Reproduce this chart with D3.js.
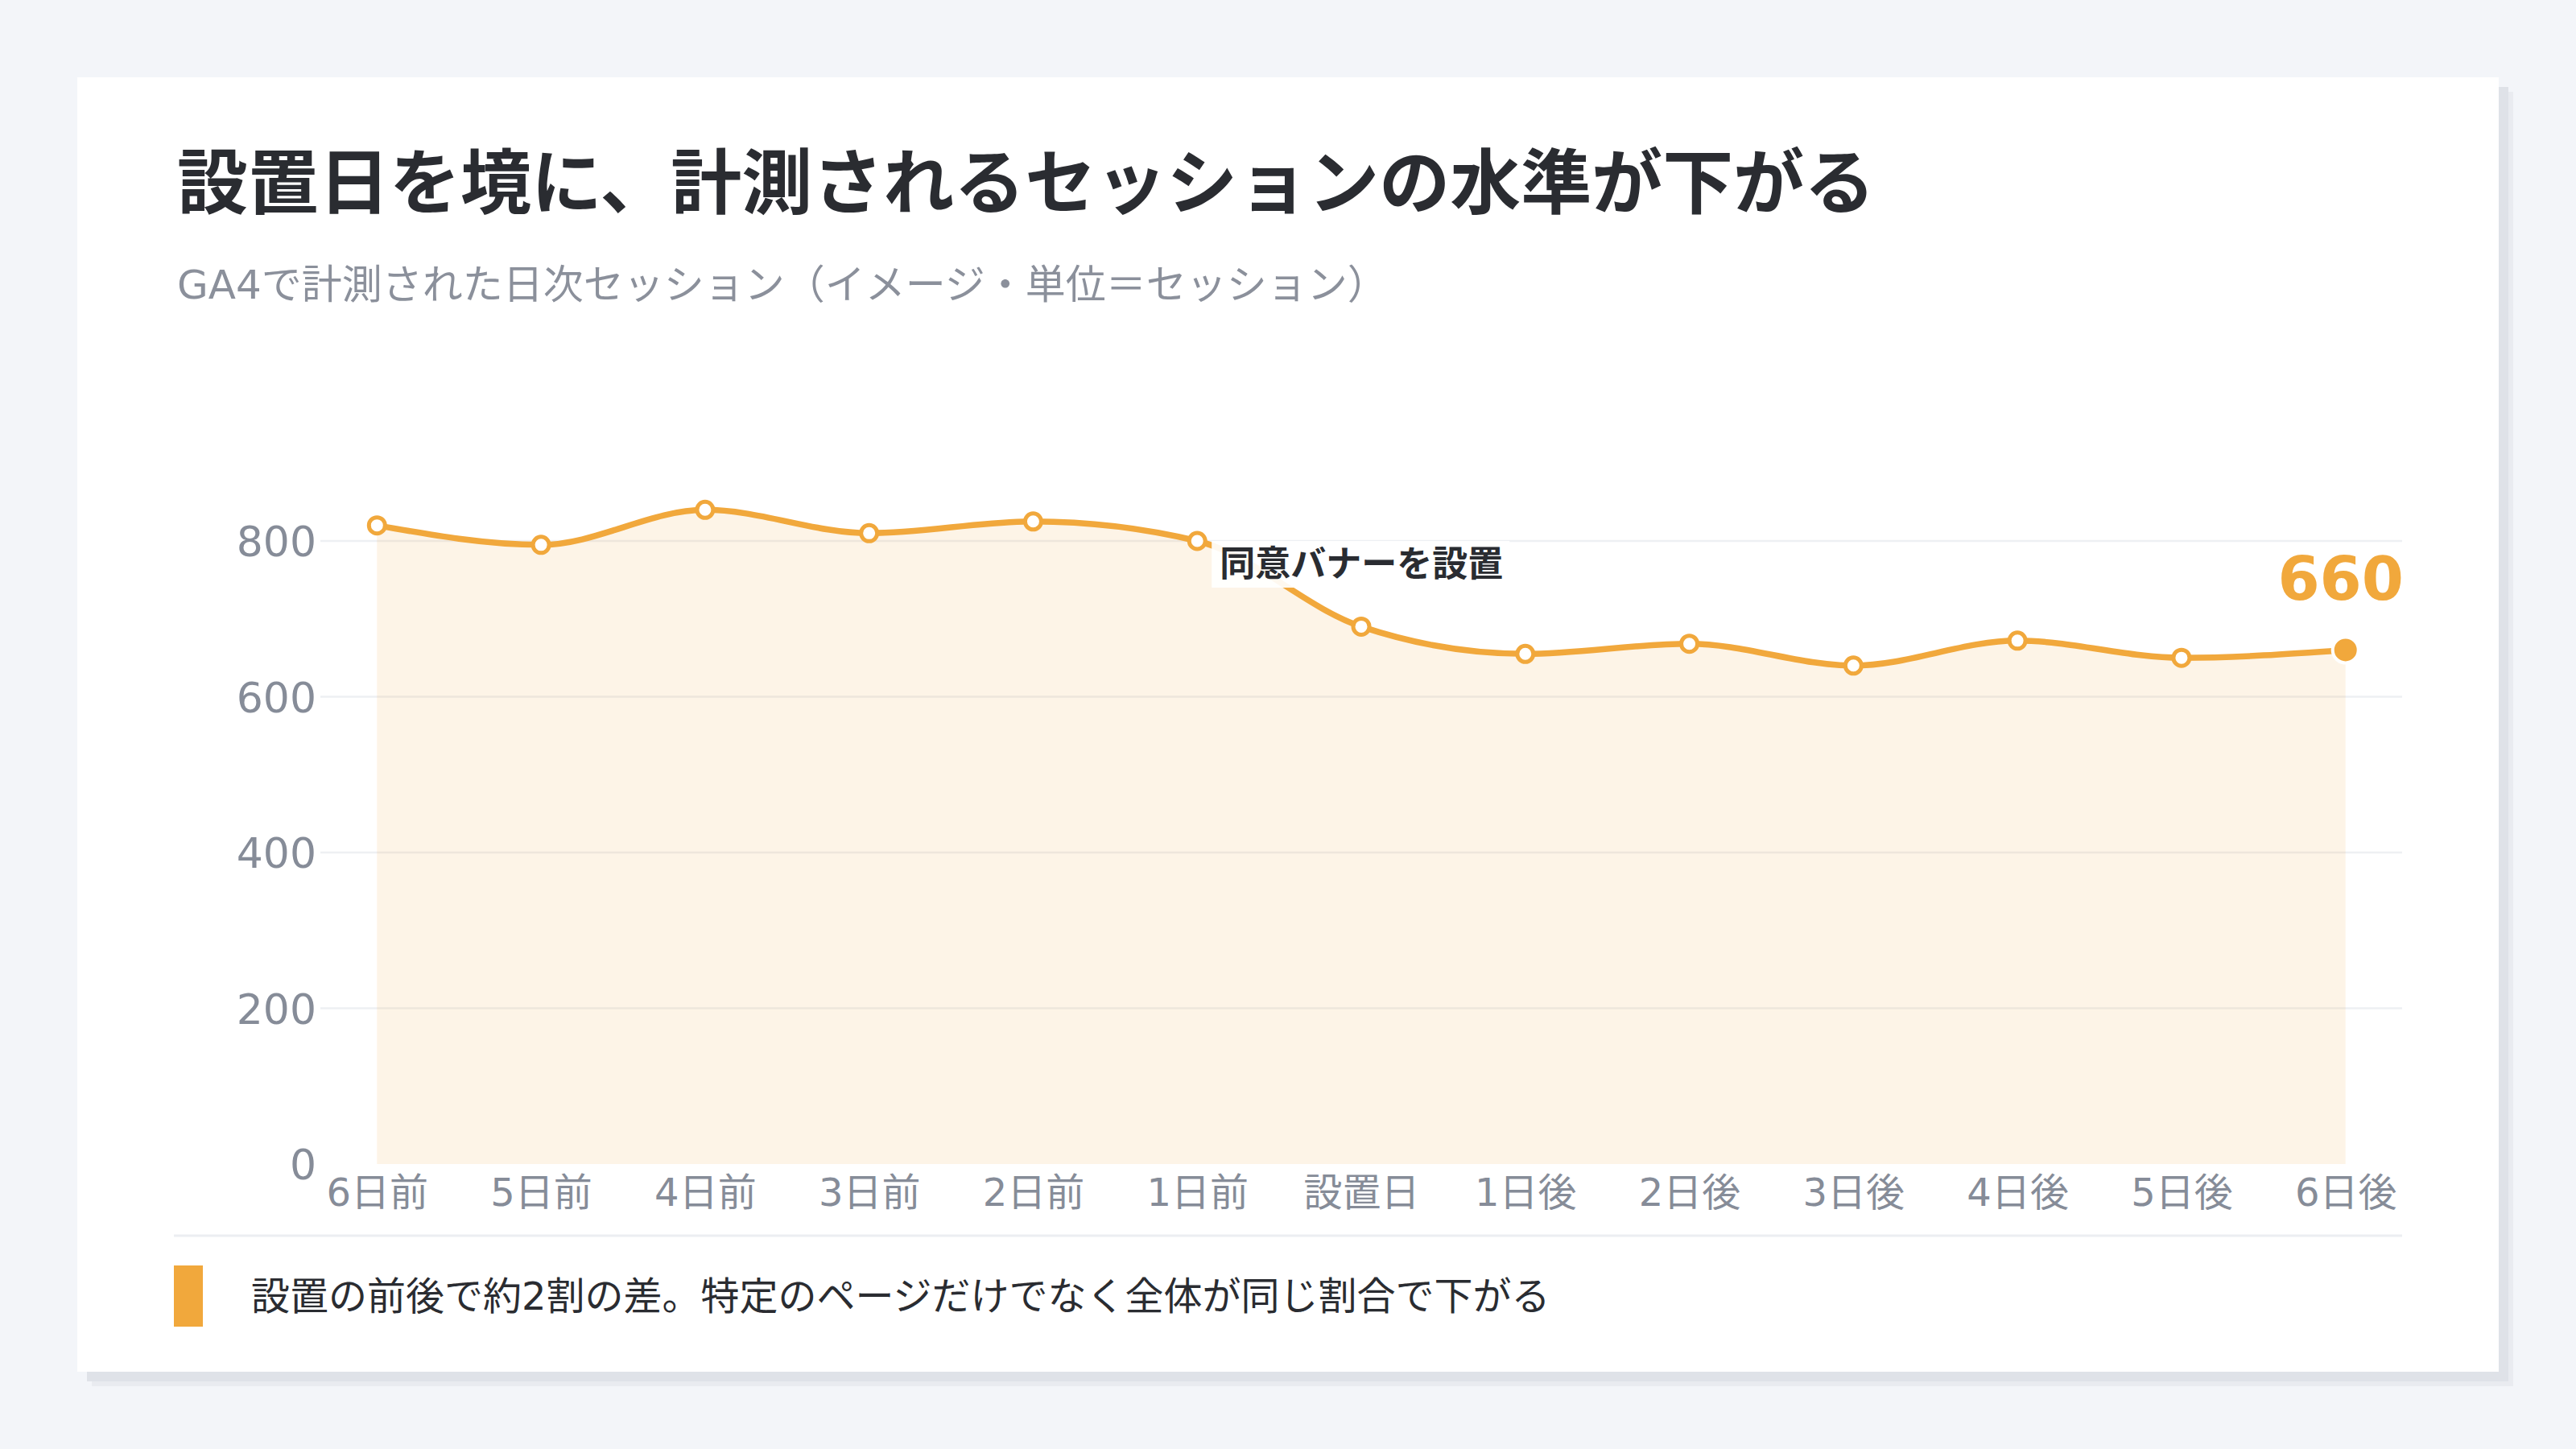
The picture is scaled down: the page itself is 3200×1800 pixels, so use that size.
<!DOCTYPE html>
<html>
<head>
<meta charset="utf-8">
<script src="https://cdn.jsdelivr.net/npm/d3@7"></script>
<style>
  html, body { margin: 0; padding: 0; background: #f3f5f9; }
  body { width: 3200px; height: 1800px; overflow: hidden; }
  svg { display: block; font-family: "DejaVu Sans", "Noto Sans CJK JP", sans-serif; }
</style>
</head>
<body>
<svg id="chart" width="3200" height="1800"></svg>
<script>
const categories = ["6日前","5日前","4日前","3日前","2日前","1日前","設置日","1日後","2日後","3日後","4日後","5日後","6日後"];
const sessions = [820, 795, 840, 810, 825, 800, 690, 655, 668, 640, 672, 650, 660];
const yTicks = [0, 200, 400, 600, 800];
const titleText = "設置日を境に、計測されるセッションの水準が下がる";
const subtitleText = "GA4で計測された日次セッション（イメージ・単位＝セッション）";
const annotationText = "同意バナーを設置";
const annotationAnchor = "1日前";
const footnoteText = "設置の前後で約2割の差。特定のページだけでなく全体が同じ割合で下がる";

const orange = "#f1a83c";
const fontMix = "\"DejaVu Sans\", \"Noto Sans CJK JP\", sans-serif";
const svg = d3.select("#chart");

// shadow + card
svg.append("rect").attr("x", 114).attr("y", 114).attr("width", 3008).attr("height", 1608).attr("fill", "#e9ebf0");
svg.append("rect").attr("x", 108).attr("y", 108).attr("width", 3008).attr("height", 1608).attr("fill", "#dfe2e8");
svg.append("rect").attr("x", 96).attr("y", 96).attr("width", 3008).attr("height", 1608).attr("fill", "#ffffff");

// titles
svg.append("text").attr("x", 220).attr("y", 258)
  .attr("font-family", "\"Noto Sans CJK JP\", sans-serif")
  .attr("font-size", 88).attr("font-weight", 700).attr("fill", "#2a2c31")
  .text(titleText);
svg.append("text").attr("x", 220).attr("y", 371)
  .attr("font-family", fontMix)
  .attr("font-size", 50).attr("fill", "#8b909b")
  .text(subtitleText);

// scales
const plotLeft = 398, plotRight = 2984;
const x = d3.scalePoint().domain(categories).range([plotLeft, plotRight]).padding(0.345);
const y = d3.scaleLinear().domain([0, 800]).range([1446, 672]);

// gridlines
svg.append("g").selectAll("line")
  .data(yTicks.filter(d => d !== 0))
  .join("line")
  .attr("x1", plotLeft).attr("x2", plotRight)
  .attr("y1", d => y(d)).attr("y2", d => y(d))
  .attr("stroke", "#eef0f3").attr("stroke-width", 2.5);

// y axis labels
const yAxis = svg.append("g").attr("transform", `translate(${plotLeft},0)`)
  .call(d3.axisLeft(y).tickValues(yTicks).tickSize(0).tickPadding(5).tickFormat(d3.format("d")));
yAxis.select(".domain").remove();
yAxis.selectAll("text")
  .attr("font-size", 52).attr("fill", "#868c98")
  .attr("font-family", fontMix)
  .attr("dy", "0.36em");

// x axis labels
const xAxis = svg.append("g").attr("transform", `translate(0,${y(0)})`)
  .call(d3.axisBottom(x).tickSize(0));
xAxis.select(".domain").remove();
xAxis.selectAll("text")
  .attr("font-size", 48).attr("fill", "#868c98")
  .attr("font-family", fontMix)
  .attr("y", 52).attr("dy", 0);

// area
const area = d3.area()
  .x((d, i) => x(categories[i]))
  .y0(y(0))
  .y1(d => y(d))
  .curve(d3.curveMonotoneX);
svg.append("path").datum(sessions).attr("d", area)
  .attr("fill", orange).attr("fill-opacity", 0.12);

// line
const line = d3.line()
  .x((d, i) => x(categories[i]))
  .y(d => y(d))
  .curve(d3.curveMonotoneX);
svg.append("path").datum(sessions).attr("d", line)
  .attr("fill", "none").attr("stroke", orange).attr("stroke-width", 7.5)
  .attr("stroke-linejoin", "round").attr("stroke-linecap", "round");

// points
const last = sessions.length - 1;
svg.append("g").selectAll("circle")
  .data(sessions.slice(0, last))
  .join("circle")
  .attr("cx", (d, i) => x(categories[i]))
  .attr("cy", d => y(d))
  .attr("r", 10)
  .attr("fill", "#ffffff").attr("stroke", orange).attr("stroke-width", 5);
svg.append("circle")
  .attr("cx", x(categories[last])).attr("cy", y(sessions[last]))
  .attr("r", 16).attr("fill", orange).attr("stroke", "#ffffff").attr("stroke-width", 4);

// last value label
svg.append("text")
  .attr("x", plotRight + 2).attr("y", y(sessions[last]) - 62)
  .attr("text-anchor", "end")
  .attr("font-family", fontMix)
  .attr("font-size", 75).attr("font-weight", 700).attr("fill", orange)
  .text(d3.format("d")(sessions[last]));

// annotation
const ai = categories.indexOf(annotationAnchor);
const ax = x(annotationAnchor) + 18, ay = y(sessions[ai]);
svg.append("rect").attr("x", ax).attr("y", ay).attr("width", 370).attr("height", 58)
  .attr("fill", "#ffffff").attr("fill-opacity", 0.92);
svg.append("text").attr("x", ax + 10).attr("y", ay + 44)
  .attr("font-family", "\"Noto Sans CJK JP\", sans-serif")
  .attr("font-size", 44).attr("font-weight", 700).attr("fill", "#2a2c31")
  .text(annotationText);

// footer
svg.append("line").attr("x1", 216).attr("x2", plotRight).attr("y1", 1535).attr("y2", 1535)
  .attr("stroke", "#eceef2").attr("stroke-width", 3);
svg.append("rect").attr("x", 216).attr("y", 1572).attr("width", 36).attr("height", 76).attr("fill", orange);
svg.append("text").attr("x", 312).attr("y", 1627)
  .attr("font-family", fontMix)
  .attr("font-size", 48).attr("fill", "#2a2c31")
  .text(footnoteText);
</script>
</body>
</html>
